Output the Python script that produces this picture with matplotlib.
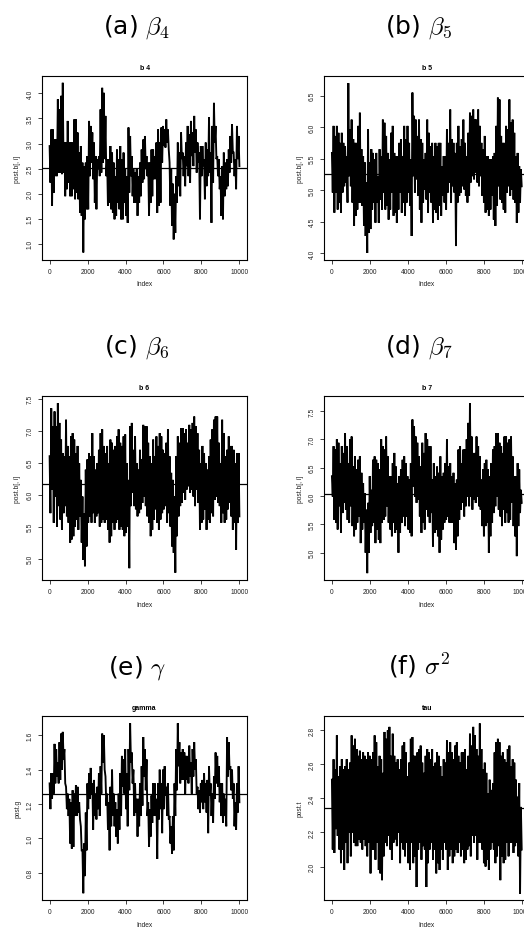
import numpy as np
import matplotlib
matplotlib.use("Agg")
import matplotlib.pyplot as plt

plt.rcParams['mathtext.fontset'] = 'cm'
plt.rcParams['font.family'] = ['Liberation Sans', 'DejaVu Sans']

# ---------------- data (thinned MCMC traces) ----------------
iterations_max = 10000
x_ticks = [0, 2000, 4000, 6000, 8000, 10000]

b4 = [2.95, 2.22, 3.28, 1.76, 3.28, 2.02, 3.08, 2.35, 3.08, 2.35, 3.88, 2.42, 3.68, 2.42, 3.95, 2.39, 4.21, 2.42, 3.02, 1.95, 3.02, 2.09, 3.45, 2.22, 3.02, 1.95, 3.02, 1.95, 3.02, 2.09, 3.48, 1.89, 3.48, 2.02, 3.22, 1.89, 2.82, 1.62, 2.95, 1.56, 2.62, 0.83, 2.55, 1.49, 2.62, 1.69, 2.75, 1.69, 3.45, 2.35, 3.35, 2.62, 3.22, 2.29, 3.02, 1.82, 2.75, 1.69, 2.69, 2.49, 2.75, 2.35, 3.68, 2.42, 4.11, 2.62, 4.01, 2.69, 3.55, 2.35, 2.69, 1.76, 2.69, 1.82, 2.95, 1.69, 2.82, 1.62, 2.62, 1.49, 2.35, 1.56, 2.88, 1.82, 2.69, 1.69, 2.95, 1.49, 2.69, 1.49, 2.82, 1.82, 2.49, 1.56, 2.35, 1.42, 3.32, 2.02, 3.15, 2.35, 2.75, 1.95, 2.49, 1.82, 2.42, 1.82, 2.49, 1.56, 2.35, 1.82, 2.62, 1.95, 2.88, 2.22, 3.08, 2.29, 3.15, 2.49, 2.75, 2.35, 2.62, 1.56, 2.62, 1.82, 2.88, 1.95, 2.88, 2.29, 2.75, 2.29, 3.02, 1.62, 3.28, 1.76, 3.02, 1.82, 3.32, 2.62, 3.35, 2.95, 3.28, 2.92, 3.48, 3.02, 3.28, 2.88, 2.62, 1.76, 2.49, 1.36, 2.20, 1.09, 2.00, 1.22, 2.35, 1.82, 3.02, 2.15, 2.82, 1.95, 3.22, 2.69, 2.82, 2.35, 2.75, 2.15, 3.02, 2.55, 3.35, 2.35, 3.18, 2.22, 3.45, 2.75, 3.22, 2.55, 3.55, 2.82, 3.28, 2.42, 3.02, 2.62, 2.82, 1.49, 2.95, 2.35, 2.95, 2.55, 2.69, 1.89, 3.02, 2.15, 2.88, 2.35, 3.52, 2.42, 2.82, 1.42, 3.35, 2.22, 3.81, 3.02, 3.35, 2.69, 2.75, 2.35, 2.69, 2.09, 2.35, 1.56, 2.55, 1.49, 2.82, 1.95, 2.62, 2.09, 2.69, 2.15, 2.88, 2.42, 3.15, 2.62, 3.38, 2.82, 2.82, 2.35, 2.69, 2.09, 3.35, 2.69, 3.15, 2.55]

b5 = [5.59, 4.96, 6.02, 4.64, 5.86, 4.96, 6.02, 4.69, 5.91, 4.80, 5.75, 4.64, 5.91, 4.96, 5.75, 5.06, 5.70, 5.12, 5.54, 4.80, 6.70, 5.22, 5.97, 5.06, 6.12, 4.80, 5.81, 4.43, 5.75, 4.59, 5.75, 4.69, 6.02, 4.80, 6.23, 4.80, 5.65, 4.75, 5.54, 4.43, 5.44, 4.27, 5.12, 4.00, 5.97, 4.32, 5.44, 4.38, 5.65, 4.69, 5.59, 4.80, 5.49, 4.48, 5.59, 4.80, 5.22, 4.48, 5.65, 4.85, 5.54, 4.69, 6.12, 4.96, 6.07, 4.69, 5.86, 4.75, 5.59, 4.53, 5.49, 4.69, 5.91, 4.96, 6.02, 4.59, 5.59, 4.64, 5.54, 4.48, 5.54, 4.69, 5.75, 4.96, 5.81, 4.64, 5.54, 4.80, 6.02, 4.59, 5.81, 4.80, 6.02, 4.96, 5.75, 4.75, 5.49, 4.27, 6.55, 5.22, 6.18, 4.96, 6.12, 5.17, 5.86, 4.91, 6.12, 4.69, 5.81, 4.48, 5.75, 4.80, 5.49, 5.01, 5.59, 4.85, 6.12, 4.64, 5.91, 4.96, 5.70, 4.80, 5.75, 4.48, 5.54, 4.69, 5.75, 4.64, 5.70, 4.53, 5.75, 4.75, 5.75, 4.59, 5.38, 4.91, 5.54, 4.80, 5.54, 4.69, 5.97, 4.96, 5.75, 5.12, 6.28, 4.80, 5.81, 5.06, 5.75, 4.96, 5.59, 4.11, 5.75, 4.80, 6.02, 4.91, 5.70, 4.96, 5.81, 5.06, 6.12, 5.01, 5.75, 4.91, 5.54, 4.80, 5.91, 4.91, 6.23, 5.12, 6.18, 5.22, 6.28, 5.17, 6.12, 5.28, 6.12, 5.12, 6.28, 5.06, 6.02, 5.22, 5.75, 4.91, 5.65, 4.80, 5.86, 4.64, 5.54, 4.69, 5.54, 4.59, 5.49, 4.69, 5.49, 4.91, 5.54, 4.53, 5.59, 4.43, 6.02, 4.75, 6.47, 5.06, 6.44, 4.85, 5.86, 4.80, 5.75, 4.69, 5.75, 4.64, 6.02, 4.96, 5.97, 5.06, 6.44, 4.91, 6.07, 5.01, 6.12, 4.85, 5.91, 4.80, 5.54, 4.48, 5.59, 4.64, 5.38, 4.80, 5.33, 5.06]

b6 = [6.60, 5.71, 7.35, 6.08, 7.07, 5.56, 7.30, 5.97, 7.07, 5.50, 7.43, 5.82, 7.12, 5.61, 6.86, 5.45, 6.65, 5.71, 6.60, 5.82, 7.17, 5.66, 6.76, 5.56, 6.60, 5.25, 6.91, 5.30, 6.96, 5.35, 6.86, 5.50, 6.65, 5.61, 6.76, 5.45, 6.49, 5.66, 6.23, 5.25, 5.97, 4.98, 5.71, 4.88, 6.39, 5.19, 6.55, 5.56, 6.65, 5.66, 6.60, 5.56, 6.96, 5.71, 6.60, 5.56, 6.39, 5.66, 6.49, 5.71, 6.70, 5.50, 6.96, 5.56, 7.02, 5.61, 6.76, 5.56, 6.65, 5.61, 6.76, 5.45, 6.49, 5.25, 6.86, 5.35, 6.81, 5.56, 6.70, 5.45, 6.76, 5.56, 6.91, 5.61, 7.02, 5.45, 6.81, 5.50, 6.76, 5.45, 6.91, 5.35, 6.94, 5.40, 6.49, 5.50, 6.23, 4.85, 7.07, 5.82, 7.12, 6.03, 6.70, 5.82, 6.91, 5.77, 6.49, 5.66, 6.39, 5.71, 6.70, 5.77, 6.55, 5.87, 7.09, 5.97, 7.07, 5.82, 7.07, 5.66, 6.81, 5.56, 6.60, 5.35, 6.49, 5.45, 6.86, 5.61, 6.60, 5.77, 6.91, 5.56, 6.76, 5.45, 6.96, 5.61, 6.91, 5.71, 6.70, 5.77, 6.65, 5.82, 6.81, 5.56, 7.02, 5.71, 6.60, 5.50, 6.34, 5.19, 6.23, 5.09, 5.97, 4.78, 6.60, 5.35, 6.91, 5.66, 6.81, 5.82, 7.04, 5.87, 7.04, 6.03, 6.96, 5.92, 7.02, 6.08, 6.81, 6.13, 7.09, 6.03, 7.02, 6.08, 7.12, 5.97, 7.22, 5.82, 7.07, 6.08, 6.96, 5.87, 6.70, 5.45, 6.49, 5.56, 6.76, 5.61, 6.65, 5.77, 6.49, 5.45, 6.39, 5.61, 6.60, 5.56, 6.86, 5.71, 7.02, 5.66, 7.17, 5.92, 7.22, 5.97, 7.22, 5.87, 6.81, 5.82, 6.49, 5.56, 7.17, 5.71, 6.96, 5.56, 6.60, 5.61, 6.70, 5.77, 6.91, 5.87, 6.76, 5.66, 6.76, 5.45, 6.70, 5.56, 6.49, 5.14, 6.65, 5.56, 6.65, 5.66]

b7 = [6.35, 5.99, 6.88, 5.58, 6.82, 5.53, 7.00, 5.41, 6.94, 5.82, 6.58, 5.35, 6.88, 5.70, 6.76, 5.88, 7.11, 5.76, 6.88, 5.58, 6.58, 5.53, 7.00, 5.82, 7.05, 5.47, 6.52, 5.29, 6.70, 5.41, 6.47, 5.53, 6.64, 5.64, 6.70, 5.17, 6.41, 5.41, 6.23, 5.53, 6.05, 5.00, 5.76, 4.64, 5.88, 5.00, 6.35, 5.35, 6.11, 5.47, 6.64, 5.53, 6.70, 5.17, 6.64, 5.41, 6.58, 5.23, 6.47, 5.17, 7.00, 5.53, 6.88, 5.58, 6.82, 5.64, 7.05, 5.82, 6.70, 5.53, 6.35, 5.41, 6.35, 5.29, 6.58, 5.53, 6.76, 5.35, 6.52, 5.41, 6.23, 5.00, 6.35, 5.35, 6.47, 5.53, 6.64, 5.64, 6.70, 5.47, 6.58, 5.64, 6.35, 5.41, 6.29, 5.35, 6.58, 5.29, 7.35, 6.17, 7.23, 5.99, 7.05, 5.88, 6.94, 5.94, 6.70, 5.64, 6.52, 5.35, 6.94, 5.53, 6.76, 5.41, 7.11, 5.76, 7.00, 5.64, 6.88, 5.53, 6.88, 5.70, 6.29, 5.11, 6.58, 5.35, 6.35, 5.41, 6.52, 5.29, 6.41, 5.00, 6.70, 5.23, 6.35, 5.41, 6.41, 5.53, 6.58, 5.58, 7.00, 5.64, 6.52, 5.53, 6.58, 5.53, 6.35, 5.53, 6.41, 5.17, 6.23, 5.05, 6.29, 5.29, 6.82, 5.58, 6.88, 5.76, 6.58, 5.88, 6.82, 5.64, 6.82, 5.82, 7.00, 5.99, 7.29, 5.82, 7.64, 5.99, 7.05, 5.76, 6.76, 5.94, 6.76, 5.88, 7.05, 5.99, 6.88, 5.82, 6.70, 5.76, 6.29, 5.47, 6.47, 5.29, 6.58, 5.47, 6.64, 5.53, 6.47, 5.00, 6.35, 5.29, 6.58, 5.53, 6.82, 5.70, 6.88, 5.82, 7.11, 5.99, 7.11, 5.76, 6.94, 5.64, 6.88, 5.47, 6.76, 5.76, 7.05, 5.53, 7.05, 5.70, 6.94, 5.53, 7.00, 5.58, 7.05, 5.88, 6.70, 5.47, 6.35, 5.29, 6.35, 4.94, 6.58, 5.47, 6.47, 5.70, 6.11, 5.88]

gamma = [1.32, 1.17, 1.38, 1.23, 1.38, 1.26, 1.55, 1.32, 1.52, 1.36, 1.44, 1.32, 1.56, 1.34, 1.61, 1.40, 1.62, 1.46, 1.52, 1.32, 1.30, 1.17, 1.26, 1.13, 1.23, 0.97, 1.21, 0.94, 1.28, 0.95, 1.26, 1.13, 1.31, 1.13, 1.30, 1.15, 1.21, 1.11, 1.07, 0.93, 0.93, 0.68, 0.97, 0.78, 1.15, 0.93, 1.32, 1.17, 1.38, 1.23, 1.41, 1.26, 1.32, 1.05, 1.34, 1.13, 1.26, 1.11, 1.30, 1.17, 1.38, 1.13, 1.42, 1.26, 1.61, 1.44, 1.60, 1.40, 1.36, 1.19, 1.26, 1.05, 1.21, 0.93, 1.30, 1.07, 1.40, 1.13, 1.26, 1.07, 1.21, 1.01, 1.17, 0.97, 1.26, 1.05, 1.38, 1.13, 1.48, 1.30, 1.46, 1.26, 1.52, 1.17, 1.38, 1.07, 1.52, 1.28, 1.67, 1.44, 1.50, 1.32, 1.40, 1.13, 1.32, 1.15, 1.23, 1.01, 1.23, 1.07, 1.32, 1.13, 1.42, 1.19, 1.59, 1.36, 1.52, 1.28, 1.46, 1.13, 1.21, 0.95, 1.17, 1.01, 1.25, 1.09, 1.32, 1.13, 1.32, 1.13, 1.23, 0.88, 1.32, 1.11, 1.40, 1.17, 1.32, 1.03, 1.40, 1.17, 1.42, 1.25, 1.30, 1.13, 1.32, 1.11, 1.13, 0.97, 1.07, 0.91, 1.13, 0.93, 1.32, 1.13, 1.52, 1.28, 1.67, 1.42, 1.56, 1.32, 1.50, 1.34, 1.52, 1.34, 1.50, 1.26, 1.48, 1.34, 1.48, 1.32, 1.54, 1.36, 1.44, 1.26, 1.52, 1.36, 1.56, 1.40, 1.46, 1.26, 1.30, 1.17, 1.28, 1.15, 1.32, 1.21, 1.34, 1.17, 1.38, 1.21, 1.32, 1.15, 1.34, 1.03, 1.42, 1.25, 1.32, 1.13, 1.26, 1.09, 1.36, 1.23, 1.50, 1.32, 1.48, 1.30, 1.42, 1.21, 1.32, 1.13, 1.32, 1.09, 1.26, 1.13, 1.23, 1.07, 1.59, 1.36, 1.56, 1.40, 1.42, 1.28, 1.40, 1.23, 1.32, 1.07, 1.21, 1.05, 1.32, 1.15, 1.42, 1.21]

tau = [2.51, 2.10, 2.63, 2.08, 2.57, 2.22, 2.77, 2.18, 2.53, 2.10, 2.59, 2.02, 2.63, 2.10, 2.57, 1.98, 2.59, 2.14, 2.63, 2.02, 2.57, 2.20, 2.61, 2.06, 2.77, 2.20, 2.71, 2.14, 2.75, 2.12, 2.69, 2.12, 2.65, 2.16, 2.68, 2.14, 2.63, 2.10, 2.67, 2.16, 2.65, 2.12, 2.63, 2.06, 2.67, 2.14, 2.65, 1.96, 2.63, 2.10, 2.67, 2.10, 2.77, 2.04, 2.73, 2.14, 2.59, 1.98, 2.65, 1.96, 2.63, 1.92, 2.55, 2.06, 2.79, 2.14, 2.75, 2.12, 2.80, 2.18, 2.82, 2.10, 2.65, 2.04, 2.78, 2.14, 2.65, 2.16, 2.61, 2.12, 2.63, 2.20, 2.57, 2.02, 2.63, 2.14, 2.71, 2.10, 2.73, 2.06, 2.67, 2.14, 2.53, 2.02, 2.61, 1.98, 2.75, 2.14, 2.76, 2.02, 2.65, 2.06, 2.65, 1.88, 2.67, 2.10, 2.69, 2.14, 2.71, 2.04, 2.61, 2.12, 2.55, 2.10, 2.65, 1.88, 2.69, 2.02, 2.67, 2.10, 2.63, 2.14, 2.69, 2.04, 2.59, 2.10, 2.61, 1.96, 2.67, 2.02, 2.65, 1.98, 2.59, 2.10, 2.53, 2.04, 2.63, 2.14, 2.61, 2.10, 2.74, 1.98, 2.67, 2.06, 2.73, 2.10, 2.67, 2.02, 2.63, 2.06, 2.71, 2.10, 2.73, 2.08, 2.65, 2.14, 2.61, 2.06, 2.67, 2.10, 2.67, 2.02, 2.69, 2.04, 2.57, 2.10, 2.65, 2.12, 2.78, 2.06, 2.71, 2.18, 2.82, 2.14, 2.77, 2.18, 2.69, 2.04, 2.65, 2.14, 2.84, 2.14, 2.69, 2.10, 2.57, 2.02, 2.61, 2.00, 2.55, 2.04, 2.43, 1.98, 2.51, 2.10, 2.45, 2.14, 2.49, 2.10, 2.67, 2.02, 2.73, 2.06, 2.75, 2.12, 2.73, 1.92, 2.65, 2.06, 2.67, 2.02, 2.63, 2.04, 2.61, 2.14, 2.69, 2.06, 2.71, 2.14, 2.59, 2.14, 2.63, 2.08, 2.61, 2.12, 2.51, 2.14, 2.41, 2.06, 2.49, 1.84, 2.35, 2.10]

# posterior means (horizontal reference lines)
means = [2.51, 5.25, 6.17, 6.04, 1.256, 2.342]

series = [b4, b5, b6, b7, gamma, tau]
main_titles = ["b 4", "b 5", "b 6", "b 7", "gamma", "tau"]
y_labels = ["post.b[, i]", "post.b[, i]", "post.b[, i]", "post.b[, i]", "post.g", "post.t"]
captions = [r"(a) $\beta_4$", r"(b) $\beta_5$", r"(c) $\beta_6$",
            r"(d) $\beta_7$", r"(e) $\gamma$", r"(f) $\sigma^2$"]
y_ticks = [[1.0, 1.5, 2.0, 2.5, 3.0, 3.5, 4.0],
           [4.0, 4.5, 5.0, 5.5, 6.0, 6.5],
           [5.0, 5.5, 6.0, 6.5, 7.0, 7.5],
           [5.0, 5.5, 6.0, 6.5, 7.0, 7.5],
           [0.8, 1.0, 1.2, 1.4, 1.6],
           [2.0, 2.2, 2.4, 2.6, 2.8]]

# ---------------- layout ----------------
W, H = 524, 929
fig = plt.figure(figsize=(W / 100, H / 100), dpi=100)

AX_W, AX_H = 205, 184
lefts = [42, 324.3]
tops = [77, 397.3, 717.3]
ylims = [(0.68, 4.345), (3.888, 6.813), (4.661, 7.536),
         (4.514, 7.759), (0.639, 1.7107), (1.802, 2.882)]
cap_x = [137, 419]
cap_base = [33.5, 354, 674]

for i, vals in enumerate(series):
    r, c = divmod(i, 2)
    L, T = lefts[c], tops[r]
    ax = fig.add_axes([L / W, 1 - (T + AX_H) / H, AX_W / W, AX_H / H])
    xs = np.linspace(1, iterations_max, len(vals))
    ax.plot(xs, vals, color='black', lw=1.35, solid_joinstyle='miter')
    ax.axhline(means[i], color='black', lw=0.9)
    ax.set_xlim(-400, 10400)
    ax.set_ylim(*ylims[i])
    ax.set_xticks(x_ticks)
    ax.set_xticklabels([str(t) for t in x_ticks])
    ax.set_yticks(y_ticks[i])
    ax.set_yticklabels([f"{t:.1f}" for t in y_ticks[i]], rotation=90, va='center')
    ax.tick_params(axis='both', direction='out', length=2.9, width=0.6,
                   labelsize=4.8, colors='#222222')
    ax.tick_params(axis='x', pad=2.6)
    ax.tick_params(axis='y', pad=3.2)
    for sp in ax.spines.values():
        sp.set_linewidth(0.8)
        sp.set_color('black')
    ax.text(0.5, 1 + 9 / AX_H, main_titles[i], transform=ax.transAxes,
            ha='center', va='center', fontsize=5.0, fontweight='bold')
    ax.text(0.5, -24 / AX_H, "Index", transform=ax.transAxes,
            ha='center', va='center', fontsize=4.8, color='#222222')
    ax.text(-24 / AX_W, 0.5, y_labels[i], transform=ax.transAxes, rotation=90,
            ha='center', va='center', fontsize=4.8, color='#222222')
    fig.text(cap_x[c] / W, 1 - cap_base[r] / H, captions[i], ha='center',
             va='baseline', fontsize=18, family='DejaVu Sans')

fig.savefig("out.png", dpi=100)
